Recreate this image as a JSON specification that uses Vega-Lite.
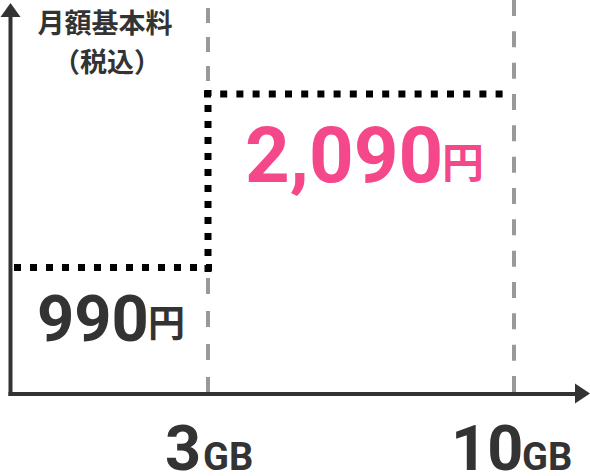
{
  "$schema": "https://vega.github.io/schema/vega-lite/v6.json",
  "description": "月額基本料（税込）: 3GBまで990円、10GBまで2,090円",
  "width": 590,
  "height": 476,
  "padding": 0,
  "autosize": "none",
  "background": "white",
  "config": {"view": {"stroke": null}},
  "datasets": {
    "axes": [
      {"x": 0.5, "y": -2, "x2": 0.5, "y2": 377},
      {"x": -1.5, "y": 0, "x2": 566, "y2": 0}
    ],
    "arrowUp": [{"x": 0.5, "y": 384}],
    "arrowRight": [{"x": 572.5, "y": 0.5}],
    "gridTop": [{"x": 198, "y": 386, "x2": 198, "y2": 313}],
    "gridBottom": [{"x": 198, "y": 116, "x2": 198, "y2": 0}],
    "gridRight": [{"x": 504, "y": 394, "x2": 504, "y2": 0}],
    "stepLow": [{"x": 4, "y": 126.5, "x2": 202, "y2": 126.5}],
    "stepRise": [{"x": 198, "y": 122, "x2": 198, "y2": 304}],
    "stepHigh": [{"x": 194, "y": 300, "x2": 494, "y2": 300}],
    "priceHigh": [{"x": 235, "y": 212, "num": "2,090", "unit": "円", "ux": 432, "uy": 216}],
    "priceLow": [{"x": 27, "y": 53, "num": "990", "unit": "円", "ux": 138, "uy": 57}],
    "ticks": [
      {"x": 155, "y": -76, "num": "3", "ux": 193},
      {"x": 441, "y": -76, "num": "10", "ux": 512}
    ],
    "title": [
      {"x": 95, "y": 361, "label": "月額基本料"},
      {"x": 97, "y": 322, "label": "（税込）"}
    ]
  },
  "encoding": {
    "x": {"field": "x", "type": "quantitative", "scale": {"domain": [-10, 580], "nice": false, "zero": false}, "axis": null},
    "y": {"field": "y", "type": "quantitative", "scale": {"domain": [-82, 394], "nice": false, "zero": false}, "axis": null}
  },
  "layer": [
    {
      "data": {"name": "gridTop"},
      "mark": {"type": "rule", "stroke": "#999999", "strokeWidth": 4, "strokeDash": [15, 14], "strokeCap": "butt"},
      "encoding": {"x2": {"field": "x2"}, "y2": {"field": "y2"}}
    },
    {
      "data": {"name": "gridBottom"},
      "mark": {"type": "rule", "stroke": "#999999", "strokeWidth": 4, "strokeDash": [16, 17], "strokeCap": "butt"},
      "encoding": {"x2": {"field": "x2"}, "y2": {"field": "y2"}}
    },
    {
      "data": {"name": "gridRight"},
      "mark": {"type": "rule", "stroke": "#999999", "strokeWidth": 4, "strokeDash": [16, 15.33], "strokeCap": "butt"},
      "encoding": {"x2": {"field": "x2"}, "y2": {"field": "y2"}}
    },
    {
      "data": {"name": "stepLow"},
      "mark": {"type": "rule", "stroke": "#000000", "strokeWidth": 7, "strokeDash": [7, 9], "strokeCap": "butt"},
      "encoding": {"x2": {"field": "x2"}, "y2": {"field": "y2"}}
    },
    {
      "data": {"name": "stepRise"},
      "mark": {"type": "rule", "stroke": "#000000", "strokeWidth": 7, "strokeDash": [7, 9], "strokeCap": "butt"},
      "encoding": {"x2": {"field": "x2"}, "y2": {"field": "y2"}}
    },
    {
      "data": {"name": "stepHigh"},
      "mark": {"type": "rule", "stroke": "#000000", "strokeWidth": 7, "strokeDash": [7, 9.2], "strokeCap": "butt"},
      "encoding": {"x2": {"field": "x2"}, "y2": {"field": "y2"}}
    },
    {
      "data": {"name": "axes"},
      "mark": {"type": "rule", "stroke": "#333333", "strokeWidth": 4, "strokeCap": "butt"},
      "encoding": {"x2": {"field": "x2"}, "y2": {"field": "y2"}}
    },
    {
      "data": {"name": "arrowUp"},
      "mark": {"type": "point", "shape": "M-1,0.7L1,0.7L0,-0.7Z", "size": 400, "filled": true, "fill": "#333333", "strokeWidth": 0, "opacity": 1}
    },
    {
      "data": {"name": "arrowRight"},
      "mark": {"type": "point", "shape": "M-0.75,-1L0.75,0L-0.75,1Z", "size": 400, "filled": true, "fill": "#333333", "strokeWidth": 0, "opacity": 1}
    },
    {
      "data": {"name": "priceHigh"},
      "mark": {"type": "text", "font": "Roboto", "fontWeight": 700, "fontSize": 78, "fill": "#F4488A", "align": "left", "baseline": "alphabetic"},
      "encoding": {"text": {"field": "num"}}
    },
    {
      "data": {"name": "priceHigh"},
      "mark": {"type": "text", "font": "Noto Sans CJK JP", "fontWeight": 700, "fontSize": 42, "fill": "#F4488A", "align": "left", "baseline": "alphabetic"},
      "encoding": {
        "x": {"field": "ux", "type": "quantitative"},
        "y": {"field": "uy", "type": "quantitative"},
        "text": {"field": "unit"}
      }
    },
    {
      "data": {"name": "priceLow"},
      "mark": {"type": "text", "font": "Roboto", "fontWeight": 700, "fontSize": 65, "fill": "#333333", "align": "left", "baseline": "alphabetic"},
      "encoding": {"text": {"field": "num"}}
    },
    {
      "data": {"name": "priceLow"},
      "mark": {"type": "text", "font": "Noto Sans CJK JP", "fontWeight": 700, "fontSize": 37, "fill": "#333333", "align": "left", "baseline": "alphabetic"},
      "encoding": {
        "x": {"field": "ux", "type": "quantitative"},
        "y": {"field": "uy", "type": "quantitative"},
        "text": {"field": "unit"}
      }
    },
    {
      "data": {"name": "ticks"},
      "mark": {"type": "text", "font": "Roboto", "fontWeight": 700, "fontSize": 63, "fill": "#333333", "align": "left", "baseline": "alphabetic"},
      "encoding": {"text": {"field": "num"}}
    },
    {
      "data": {"name": "ticks"},
      "mark": {"type": "text", "font": "Roboto", "fontWeight": 700, "fontSize": 38, "fill": "#333333", "align": "left", "baseline": "alphabetic", "text": "GB"},
      "encoding": {"x": {"field": "ux", "type": "quantitative"}}
    },
    {
      "data": {"name": "title"},
      "mark": {"type": "text", "font": "Noto Sans CJK JP", "fontWeight": 700, "fontSize": 27, "fill": "#333333", "align": "center", "baseline": "alphabetic"},
      "encoding": {"text": {"field": "label"}}
    }
  ]
}
